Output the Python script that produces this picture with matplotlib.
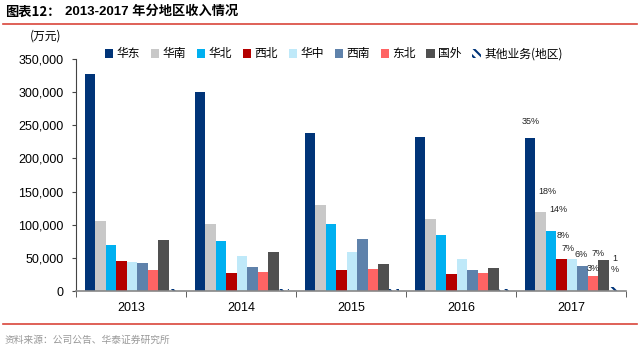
import matplotlib
matplotlib.use("Agg")
from matplotlib import pyplot as plt
from matplotlib.ticker import FuncFormatter
import numpy as np

plt.rcParams['font.family'] = ['Liberation Sans', 'Noto Sans CJK SC', 'DejaVu Sans']
plt.rcParams['hatch.linewidth'] = 1.5
plt.rcParams['hatch.color'] = "#003478"

years = ["2013", "2014", "2015", "2016", "2017"]
regions = ["华东", "华南", "华北", "西北", "华中", "西南", "东北", "国外", "其他业务(地区)"]

huadong = [328000, 300000, 239000, 233000, 230500]
huanan = [106000, 101500, 130000, 108500, 119000]
huabei = [70000, 76000, 100500, 84500, 91000]
xibei = [46000, 26500, 31000, 25500, 48800]
huazhong = [43500, 53500, 59500, 48500, 47700]
xinan = [42000, 36000, 78500, 32000, 37200]
dongbei = [31000, 29000, 33000, 27500, 22000]
guowai = [77500, 59500, 40500, 34500, 47300]
qita = [3500, 3500, 3500, 3500, 6000]

pct_2017 = ["35%", "18%", "14%", "8%", "7%", "6%", "3%", "7%", "1\n%"]

colors = ["#003478", "#C8C8C8", "#00B0F0", "#B40000", "#BFE9F9",
          "#5F82AB", "#FF6464", "#505050", "white"]
series = [huadong, huanan, huabei, xibei, huazhong, xinan, dongbei, guowai, qita]

fig = plt.figure(figsize=(6.42, 3.48), dpi=100)
ax = fig.add_axes([76 / 642, 1 - 291 / 348, 550 / 642, 232 / 348])

x = np.arange(len(years))
w = 0.095
start = -0.418
for k, (vals, col) in enumerate(zip(series, colors)):
    pos = x + start + w / 2 + k * w
    if k == len(series) - 1:
        ax.bar(pos, vals, w, facecolor="white", edgecolor="#003478", hatch="\\" * 4,
               linewidth=0, label=regions[k])
    else:
        ax.bar(pos, vals, w, color=col, linewidth=0, label=regions[k])

# percentage labels for 2017 (offsets in pixels)
offsets = [(0, 17), (6.5, 21), (7, 21), (2, 23), (-4, 11), (-1, 12), (0, 8), (-5.5, 6), (1, 23)]
for k, vals in enumerate(series):
    pos = x[-1] + start + w / 2 + k * w
    ax.annotate(pct_2017[k], (pos, vals[-1]), xytext=offsets[k], textcoords="offset pixels",
                ha="center", va="center", fontsize=6.5, color="#222222",
                linespacing=1.4)

ax.set_xlim(-0.5, 4.5)
ax.set_ylim(0, 350000)
ax.set_yticks(np.arange(0, 350001, 50000))
ax.yaxis.set_major_formatter(FuncFormatter(lambda v, p: f"{int(v):,}"))
ax.set_xticks(x)
ax.set_xticklabels(years)
ax.set_xticks(np.arange(-0.5, 5, 1), minor=True)
ax.tick_params(axis="x", which="major", length=0, pad=8, labelsize=9)
ax.tick_params(axis="x", which="minor", length=4, direction="out", color="#444444")
ax.tick_params(axis="y", length=3, direction="out", labelsize=9, pad=6, color="#444444")
for s in ["top", "right"]:
    ax.spines[s].set_visible(False)
ax.spines["left"].set_color("#444444")
ax.spines["bottom"].set_color("#888888")
ax.spines["bottom"].set_linewidth(1.2)

fig.legend(loc="center", bbox_to_anchor=(0.52, 1 - 54 / 348), ncol=9, frameon=False,
           handlelength=0.7, handleheight=0.7, handletextpad=0.3,
           columnspacing=0.9, prop={'family': ['Noto Sans CJK SC', 'DejaVu Sans'], 'size': 8.5})

red = "#D9453B"
fig.add_artist(plt.Line2D([3 / 642, 637 / 642], [1 - 24 / 348] * 2, color=red, lw=1.2))
fig.add_artist(plt.Line2D([3 / 642, 637 / 642], [1 - 324 / 348] * 2, color=red, lw=1.2))

fig.text(5 / 642, 1 - 12 / 348, "图表12：", fontsize=9.5, fontweight="bold", va="center",
         family=["Noto Sans CJK SC", "DejaVu Sans"])
fig.text(65 / 642, 1 - 12 / 348, "2013-2017 年分地区收入情况", fontsize=9.5, fontweight="bold",
         va="center", family=["Liberation Sans", "Noto Sans CJK SC"])
fig.text(30 / 642, 1 - 36 / 348, "(万元)", fontsize=8.5, va="center",
         family=["Noto Sans CJK SC", "DejaVu Sans"])
fig.text(5 / 642, 1 - 340 / 348, "资料来源：公司公告、华泰证券研究所", fontsize=7, va="center",
         color="#999999", family=["Noto Sans CJK SC", "DejaVu Sans"])

fig.savefig("out.png", dpi=100)
